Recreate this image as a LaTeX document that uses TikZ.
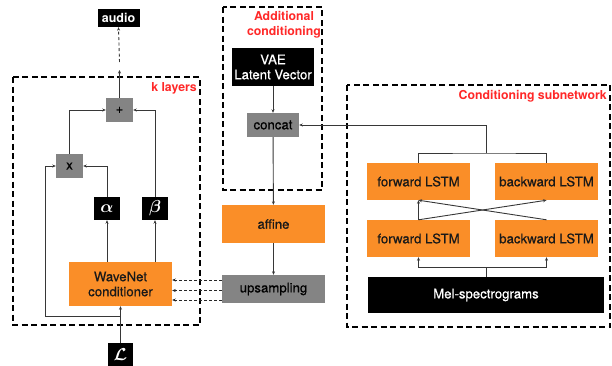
\documentclass[tikz,border=0pt]{standalone}
\usepackage{fontspec}
\setmainfont{TeX Gyre Heros}
\usepackage{amsmath,bm}
\usetikzlibrary{arrows.meta,calc}
\definecolor{boxorange}{RGB}{250,142,40}
\definecolor{boxgray}{RGB}{132,132,132}
\definecolor{labelred}{RGB}{255,40,40}
\definecolor{wire}{RGB}{55,55,55}
\newcommand{\boxfont}{\addfontfeature{FakeBold=0.6}\fontsize{13.2}{15}\selectfont}
\begin{document}
\begin{tikzpicture}[x=1pt,y=-1pt,
  box/.style={inner sep=0pt,align=center,font=\boxfont},
  blackbox/.style={box,fill=black,text=white},
  graybox/.style={box,fill=boxgray,text=black},
  orangebox/.style={box,fill=boxorange,text=black!90},
  groupbox/.style={draw=black,line width=2.4pt,dash pattern=on 6pt off 3.5pt},
  grouplabel/.style={text=labelred,font=\bfseries\fontsize{12.3}{15}\selectfont,inner sep=0pt},
  mathbox/.style={blackbox,font=\fontsize{17}{17}\selectfont},
  conn/.style={draw=wire,line width=0.9pt,-{Stealth[length=3.5pt,width=3pt]}},
  plain/.style={draw=wire,line width=0.9pt},
  feed/.style={draw=black!85,line width=1pt,dash pattern=on 3pt off 2pt,-{Stealth[length=3.5pt,width=3pt]}}]
\useasboundingbox (0,0) rectangle (612,365);

% ---------- group frames ----------
\draw[groupbox] (13,77) rectangle (200,325);
\draw[groupbox] (223,7) rectangle (322,190);
\draw[groupbox] (347,85) rectangle (610,327);
\node[grouplabel,anchor=east] (klab) at (197,88) {k layers};
\node[grouplabel,align=center] (alab) at (284,25) {Additional\\conditioning};
\node[grouplabel,anchor=east] (clab) at (607,96) {Conditioning subnetwork};

% ---------- WaveNet layer ----------
\node[blackbox,font=\bfseries\fontsize{12.5}{14}\selectfont,minimum width=42pt,minimum height=18pt] (audio) at (118.5,18) {audio};
\node[graybox,minimum width=27pt,minimum height=24pt] (plus) at (119.5,110) {+};
\node[graybox,minimum width=27pt,minimum height=24pt] (times) at (69.5,166) {x};
\node[mathbox,minimum width=26pt,minimum height=23pt] (alpha) at (107,208.5) {$\bm{\alpha}$};
\node[mathbox,minimum width=26pt,minimum height=23pt] (beta) at (155,208.5) {$\bm{\beta}$};
\node[orangebox,minimum width=103pt,minimum height=44pt] (wavenet) at (120.5,284) {WaveNet\\conditioner};
\node[mathbox,minimum width=25pt,minimum height=24pt] (loss) at (120.5,355) {$\bm{\mathcal{L}}$};

% ---------- conditioning column ----------
\node[blackbox,minimum width=82pt,minimum height=38pt] (vae) at (273,67) {VAE\\Latent Vector};
\node[graybox,minimum width=52pt,minimum height=24pt] (concat) at (273,125) {concat};
\node[orangebox,minimum width=103pt,minimum height=38pt] (affine) at (273.5,224) {affine};
\node[graybox,minimum width=103pt,minimum height=28pt] (upsamp) at (273.5,289) {upsampling};

% ---------- conditioning subnetwork ----------
\node[orangebox,minimum width=103pt,minimum height=37pt] (fwdT) at (418.5,181.5) {forward LSTM};
\node[orangebox,minimum width=103pt,minimum height=37pt] (bwdT) at (546.5,181.5) {backward LSTM};
\node[orangebox,minimum width=103pt,minimum height=37pt] (fwdB) at (418.5,238.5) {forward LSTM};
\node[orangebox,minimum width=103pt,minimum height=37pt] (bwdB) at (546.5,238.5) {backward LSTM};
\node[blackbox,minimum width=236pt,minimum height=36pt] (mel) at (486,295) {Mel-spectrograms};

% ---------- connectors: WaveNet layer ----------
\coordinate (outtip) at (119.5,70);
\coordinate (outgap) at (119.5,62);
\draw[conn] (plus.north) -- (outtip);
\draw[conn,dash pattern=on 3pt off 2.5pt] (outgap) -- (audio.south);
\draw[conn] (times.north) |- (plus.west);
\draw[conn] (beta.north) |- (plus.east);
\draw[conn] (alpha.north) |- (times.east);
\draw[conn] (wavenet.north -| alpha) -- (alpha.south);
\draw[conn] (wavenet.north -| beta) -- (beta.south);
\draw[conn] (loss.north) -- (wavenet.south);
\coordinate (skip) at (120.5,316);
\coordinate (skipcorner) at (45,316);
\draw[conn] (skip) -- (skipcorner) |- (times.west);

% ---------- connectors: conditioning ----------
\draw[conn] (vae) -- (concat);
\draw[conn] (concat) -- (affine);
\draw[conn] (affine) -- (upsamp);
\foreach \yy in {280,290.5,300} {
  \coordinate (feedlevel) at (0,\yy);
  \draw[feed] (upsamp.west |- feedlevel) -- (wavenet.east |- feedlevel);
}

% ---------- connectors: subnetwork ----------
\coordinate (toptee) at (486,153);
\draw[plain] (fwdT.north) |- (toptee) -| (bwdT.north);
\draw[conn] (toptee) |- (concat.east);
\coordinate (meltee) at (486,267);
\draw[plain] (mel.north) -- (meltee);
\draw[conn] (meltee) -| (fwdB.south);
\draw[conn] (meltee) -| (bwdB.south);
\draw[conn] (fwdB.north) -- (fwdT.south);
\draw[conn] (fwdB.north) -- (bwdT.south);
\draw[conn] (bwdB.north) -- (fwdT.south);
\end{tikzpicture}
\end{document}
